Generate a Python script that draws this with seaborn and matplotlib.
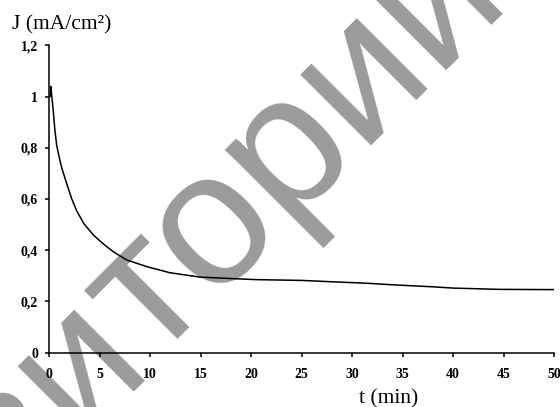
import matplotlib
matplotlib.use("Agg")
import math
import numpy as np
import matplotlib.pyplot as plt
from matplotlib.textpath import TextPath
from matplotlib.font_manager import FontProperties
import seaborn as sns
import pandas as pd

# ---- data ----
t_min = [0.1, 0.14, 0.25, 0.4, 0.55, 0.73, 1.0, 1.23, 1.66, 2.2, 2.7, 3.4,
         4.4, 5.4, 6.34, 7.66, 9.64, 11.95, 14.9, 17.6, 20.5, 25.0, 27.8,
         31.4, 34.4, 38.0, 40.0, 44.6, 50.0]
J_mA = [1.0, 1.04, 1.0, 0.94, 0.87, 0.81, 0.76, 0.722, 0.668, 0.603, 0.555,
        0.505, 0.458, 0.423, 0.394, 0.362, 0.336, 0.312, 0.295, 0.290, 0.285,
        0.282, 0.277, 0.271, 0.264, 0.257, 0.252, 0.247, 0.246]
x_ticks = [0, 5, 10, 15, 20, 25, 30, 35, 40, 45, 50]
x_tick_labels = ["0", "5", "10", "15", "20", "25", "30", "35", "40", "45", "50"]
y_ticks = [0, 0.2, 0.4, 0.6, 0.8, 1.0, 1.2]
y_tick_labels = ["0", "0,2", "0,4", "0,6", "0,8", "1", "1,2"]
watermark_left = "репози"
watermark_right = "торий"

sns.set_theme(style="white")
plt.rcParams["font.family"] = ["Liberation Serif", "DejaVu Serif"]

W, H = 560, 407
DPI = 100
fig = plt.figure(figsize=(W / DPI, H / DPI), dpi=DPI)
fig.patch.set_facecolor("white")

# ---- watermark (behind the chart) ----
wm_pt = 137
wm_px = wm_pt * DPI / 72.0
angle = 45.0
fp = FontProperties(family="Liberation Sans")
# locate the centre of the "о" that follows "т" (in unrotated text units)
v_t = TextPath((0, 0), "т", size=wm_px, prop=fp).vertices
v_to = TextPath((0, 0), "то", size=wm_px, prop=fp).vertices
o_pts = v_to[v_to[:, 0] > v_t[:, 0].max() + 1]
cx = 0.5 * (o_pts[:, 0].min() + o_pts[:, 0].max())
cy = 0.5 * (o_pts[:, 1].min() + o_pts[:, 1].max())
ca, sa = math.cos(math.radians(angle)), math.sin(math.radians(angle))
rx, ry = cx * ca - cy * sa, cx * sa + cy * ca
target_x, target_y = 211.0, H - 231.0  # centre of the "о" in the reference
anc_x, anc_y = target_x - rx, target_y - ry

wm_kw = dict(fontsize=wm_pt, color="#9b9b9b", rotation=angle,
             rotation_mode="anchor", va="baseline",
             family=["Liberation Sans", "DejaVu Sans"], zorder=-5)
fig.text(anc_x / W, anc_y / H, watermark_left, ha="right", **wm_kw)
fig.text(anc_x / W, anc_y / H, watermark_right, ha="left", **wm_kw)

# ---- axes ----
left, right = 49.3 / W, 554 / W
bottom = (H - 352.6) / H
top = (H - 45.4) / H
ax = fig.add_axes([left, bottom, right - left, top - bottom])
ax.set_facecolor("none")

df = pd.DataFrame({"t": t_min, "J": J_mA})
sns.lineplot(data=df, x="t", y="J", ax=ax, color="black", linewidth=1.1,
             sort=False, zorder=5)

ax.set_xlim(0, 50)
ax.set_ylim(0, 1.2)
ax.set_xticks(x_ticks)
ax.set_xticklabels(x_tick_labels)
ax.set_yticks(y_ticks)
ax.set_yticklabels(y_tick_labels)
ax.set_xlabel("")
ax.set_ylabel("")

for s in ["top", "right"]:
    ax.spines[s].set_visible(False)
for s in ["left", "bottom"]:
    ax.spines[s].set_color("black")
    ax.spines[s].set_linewidth(1.1)
    ax.spines[s].set_zorder(6)

ax.tick_params(axis="both", which="major", direction="out", length=3.2,
               width=1.1, color="black", labelcolor="black", bottom=True, left=True)
ax.tick_params(axis="x", pad=8)
ax.tick_params(axis="y", pad=5)
for lab in ax.get_xticklabels() + ax.get_yticklabels():
    lab.set_fontsize(10)
    lab.set_fontweight("bold")
    lab.set_family(["Liberation Serif", "DejaVu Serif"])
ax.grid(False)

fig.text(12 / W, 1 - 25 / H, "J (mA/cm²)", ha="left", va="center",
         fontsize=15.5, color="black")
fig.text(389 / W, 3.5 / H, "t (min)", ha="center", va="baseline",
         fontsize=15.5, color="black")

fig.savefig("out.png", dpi=DPI, facecolor="white")
